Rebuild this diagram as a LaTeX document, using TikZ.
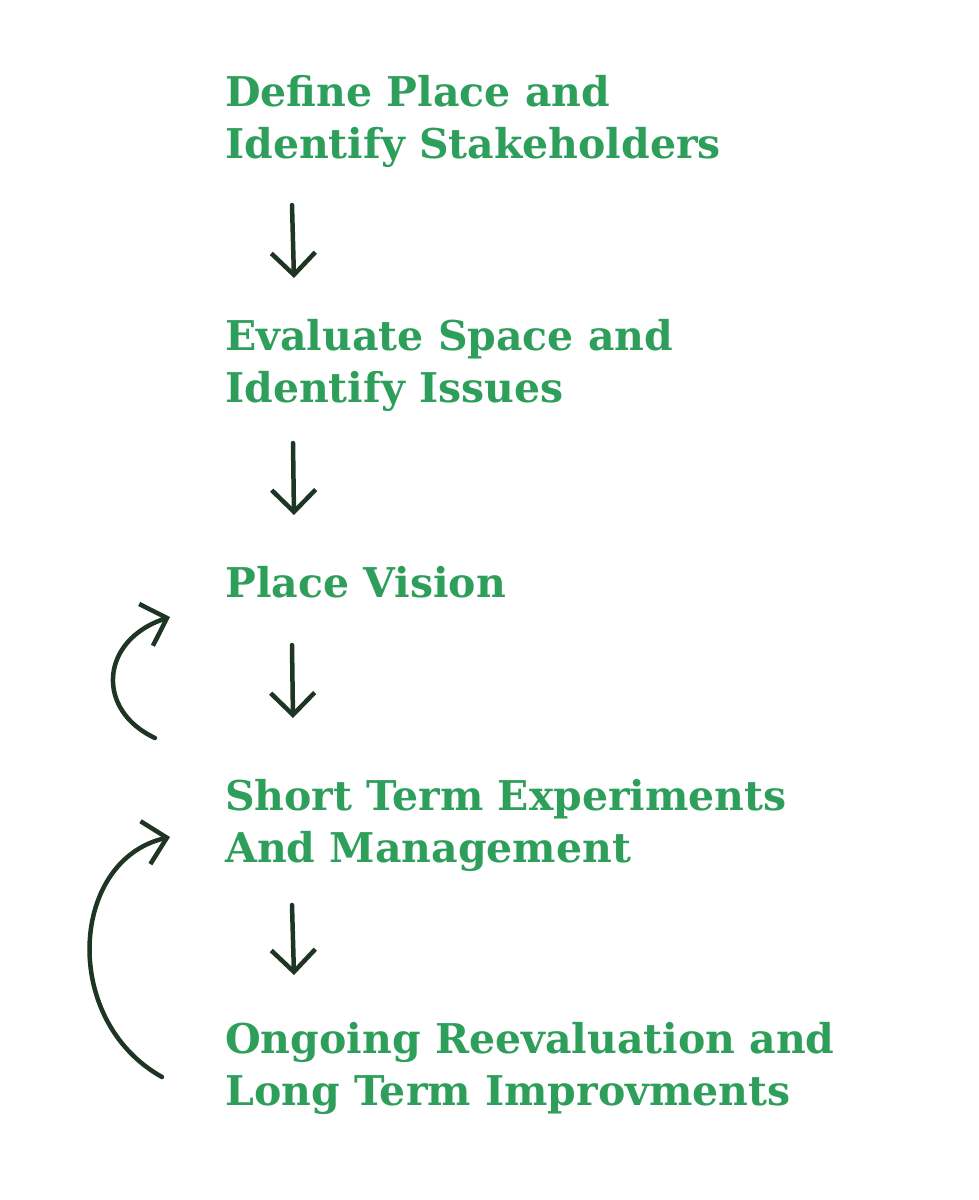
\documentclass[tikz,border=0pt]{standalone}
\usepackage{fontspec}
\setmainfont{DejaVu Serif}
\usetikzlibrary{arrows.meta}
\definecolor{tg}{HTML}{2E9E5B}
\definecolor{ag}{HTML}{1E3524}
\begin{document}
\begin{tikzpicture}[x=1pt,y=-1pt,
  lbl/.style={anchor=base west,inner sep=0pt,text=tg,font=\fontsize{41}{52}\selectfont\bfseries,align=left},
  arr/.style={draw=ag,line width=4.5pt,line cap=round,-{Straight Barb[length=22pt,width=44pt,line width=4.5pt]}}]
\useasboundingbox[fill=white] (0,0) rectangle (979,1200);
\node[lbl] (t1) at (225,158) {Define Place and\\Identify Stakeholders};
\node[lbl] (t2) at (225,402) {Evaluate Space and\\Identify Issues};
\node[lbl] (t3) at (225,597) {Place Vision};
\node[lbl] (t4) at (225,862) {Short Term Experiments\\And Management};
\node[lbl] (t5) at (225,1105) {Ongoing Reevaluation and\\Long Term Improvments};
\coordinate (a1s) at (292,205); \coordinate (a1e) at (294,278);
\coordinate (a2s) at (293,443); \coordinate (a2e) at (294,515);
\coordinate (a3s) at (292,645); \coordinate (a3e) at (293,718);
\coordinate (a4s) at (292,905); \coordinate (a4e) at (294,975);
\draw[arr] (a1s) -- (a1e);
\draw[arr] (a2s) -- (a2e);
\draw[arr] (a3s) -- (a3e);
\draw[arr] (a4s) -- (a4e);
\coordinate (c1s) at (155,738); \coordinate (c1e) at (170,617);
\coordinate (c2s) at (162,1077); \coordinate (c2e) at (170,837);
\draw[arr] (c1s) .. controls (95,710) and (100,640) .. (c1e);
\draw[arr] (c2s) .. controls (60,1020) and (70,860) .. (c2e);
\end{tikzpicture}
\end{document}
